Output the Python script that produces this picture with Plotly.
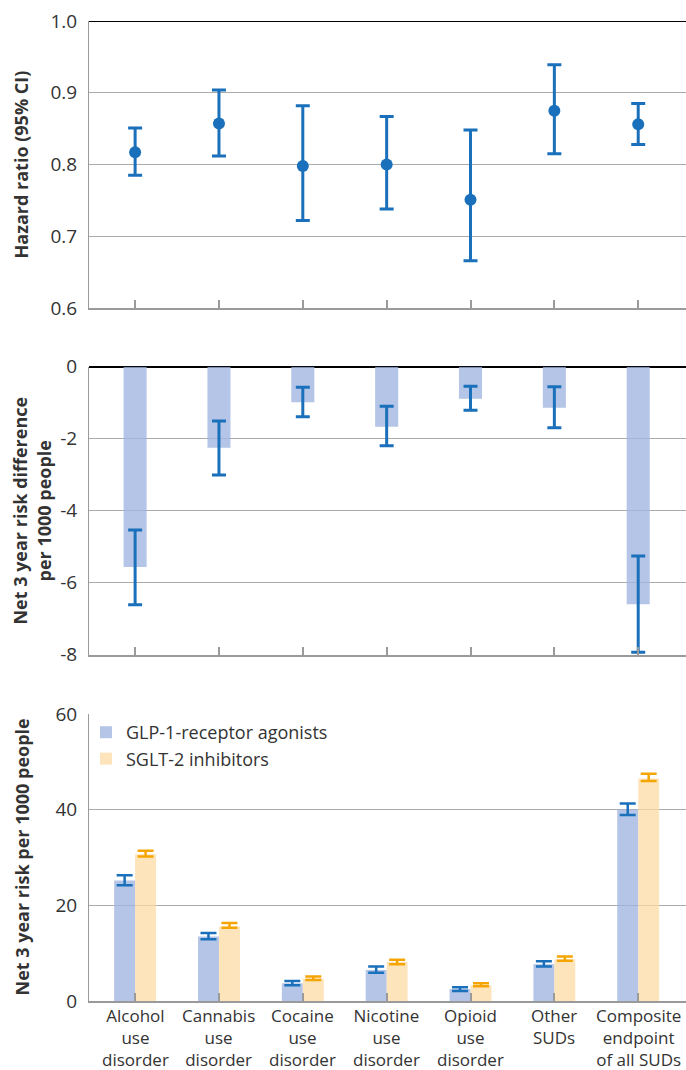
import plotly.graph_objects as go

# Outcome categories
categories = ["Alcohol<br>use<br>disorder", "Cannabis<br>use<br>disorder", "Cocaine<br>use<br>disorder",
              "Nicotine<br>use<br>disorder", "Opioid<br>use<br>disorder", "Other<br>SUDs",
              "Composite<br>endpoint<br>of all SUDs"]

# Hazard ratios with 95% CI
hr = [0.817, 0.857, 0.798, 0.800, 0.751, 0.875, 0.856]
hr_lo = [0.785, 0.812, 0.722, 0.738, 0.666, 0.815, 0.828]
hr_hi = [0.851, 0.904, 0.882, 0.867, 0.848, 0.939, 0.885]

# Net 3 year risk difference per 1000 people
rd = [-5.57, -2.25, -0.99, -1.67, -0.89, -1.14, -6.60]
rd_lo = [-6.62, -3.01, -1.39, -2.20, -1.21, -1.70, -7.94]
rd_hi = [-4.54, -1.51, -0.57, -1.10, -0.54, -0.56, -5.26]

# Net 3 year risk per 1000 people by drug class
glp = [25.2, 13.5, 3.7, 6.5, 2.5, 7.7, 40.1]
glp_lo = [24.2, 12.9, 3.3, 5.9, 2.1, 7.2, 38.9]
glp_hi = [26.3, 14.2, 4.2, 7.2, 2.9, 8.3, 41.3]
sglt = [30.7, 15.6, 4.7, 8.2, 3.3, 8.7, 46.5]
sglt_lo = [30.2, 15.3, 4.4, 7.7, 3.1, 8.4, 46.0]
sglt_hi = [31.4, 16.3, 5.1, 8.6, 3.7, 9.3, 47.5]

hr_ticks = [0.6, 0.7, 0.8, 0.9, 1.0]
rd_ticks = [0, -2, -4, -6, -8]
risk_ticks = [0, 20, 40, 60]

W, H = 686, 1070
BLUE = "#1a70ba"
ORANGE = "#f5a503"
BAR_BLUE = "rgba(160,181,224,0.78)"
BAR_PEACH = "rgba(253,218,160,0.72)"
GRID = "#ababab"
AXIS = "#9a9a9a"
TEXT = "#333333"
FONT = "Open Sans"

xpos = list(range(len(categories)))


def up(v, hi):
    return [h - x for x, h in zip(v, hi)]


def down(v, lo):
    return [x - l for x, l in zip(v, lo)]


fig = go.Figure()

# Panel 1: hazard ratios
fig.add_trace(go.Scatter(
    x=xpos, y=hr, mode="markers", xaxis="x", yaxis="y", showlegend=False,
    marker=dict(color=BLUE, size=12),
    error_y=dict(type="data", array=up(hr, hr_hi), arrayminus=down(hr, hr_lo),
                 color=BLUE, thickness=3, width=7),
))

# Panel 2: risk differences
fig.add_trace(go.Bar(
    x=xpos, y=rd, xaxis="x2", yaxis="y2", showlegend=False, width=0.275,
    marker=dict(color=BAR_BLUE, line=dict(width=0)),
    error_y=dict(type="data", array=up(rd, rd_hi), arrayminus=down(rd, rd_lo),
                 color=BLUE, thickness=3, width=7),
))

# Panel 3: absolute risks
fig.add_trace(go.Bar(
    x=xpos, y=glp, xaxis="x3", yaxis="y3", name="GLP-1-receptor agonists",
    width=0.25, offset=-0.25,
    marker=dict(color=BAR_BLUE, line=dict(width=0)),
    error_y=dict(type="data", array=up(glp, glp_hi), arrayminus=down(glp, glp_lo),
                 color=BLUE, thickness=2.5, width=8),
))
fig.add_trace(go.Bar(
    x=xpos, y=sglt, xaxis="x3", yaxis="y3", name="SGLT-2 inhibitors",
    width=0.25, offset=0,
    marker=dict(color=BAR_PEACH, line=dict(width=0)),
    error_y=dict(type="data", array=up(sglt, sglt_hi), arrayminus=down(sglt, sglt_lo),
                 color=ORANGE, thickness=2.5, width=8),
))


def ydom(top_px, bottom_px):
    return [1 - bottom_px / H, 1 - top_px / H]


xdom = [89 / W, 1.0]
xrange_ = [-0.55, 6.57]

xcommon = dict(domain=xdom, range=xrange_, showline=True, linecolor=AXIS, linewidth=1.5,
               ticks="inside", ticklen=8, tickcolor=AXIS, tickwidth=1.5,
               tickvals=xpos, showgrid=False, zeroline=False, automargin=False,
               showticklabels=False)
ycommon = dict(showline=True, linecolor=AXIS, linewidth=1, showgrid=True,
               gridcolor=GRID, gridwidth=1.3, ticks="", ticklabelstandoff=7,
               automargin=False, tickfont=dict(family=FONT, size=19, color=TEXT))

fig.update_layout(
    width=W, height=H, margin=dict(l=0, r=0, t=0, b=0, autoexpand=False),
    paper_bgcolor="white", plot_bgcolor="white",
    barmode="group",
    font=dict(family=FONT, color=TEXT),
    xaxis=dict(**xcommon, anchor="y"),
    xaxis2=dict(**xcommon, anchor="y2"),
    xaxis3=dict(**xcommon, anchor="y3", layer="above traces"),
    yaxis=dict(**ycommon, domain=ydom(21, 308), anchor="x", range=[0.6, 1.0],
               tickvals=hr_ticks, ticktext=[f"{t:.1f}" for t in hr_ticks], zeroline=False),
    yaxis2=dict(**ycommon, domain=ydom(366.7, 654.5), anchor="x2", range=[-8, 0],
                tickvals=rd_ticks, ticktext=[str(t) for t in rd_ticks],
                zeroline=True, zerolinecolor="black", zerolinewidth=2.2),
    yaxis3=dict(**ycommon, domain=ydom(714, 1001), anchor="x3", range=[0, 60],
                tickvals=risk_ticks, ticktext=[str(t) for t in risk_ticks], zeroline=False),
    legend=dict(x=86 / W, y=1 - 714 / H, xanchor="left", yanchor="top",
                bgcolor="rgba(0,0,0,0)", font=dict(family=FONT, size=18, color=TEXT),
                tracegroupgap=0, itemwidth=30),
    shapes=[dict(type="line", xref="x domain", yref="y", x0=0, x1=1, y0=1.0, y1=1.0,
                 line=dict(color="black", width=2.2))],
)

# Category labels under the bottom panel
for i, label in enumerate(categories):
    fig.add_annotation(text=label, xref="x3", yref="paper", x=xpos[i], y=1 - 1003 / H,
                       xanchor="center", yanchor="top", showarrow=False, borderpad=0,
                       font=dict(family=FONT, size=17, color=TEXT))

title_font = dict(family=FONT, size=18, color=TEXT)
for text, ymid, xc in [("<b>Hazard ratio (95% CI)</b>", (21 + 308) / 2, 21),
                       ("<b>Net 3 year risk difference<br>per 1000 people</b>", (366.7 + 654.5) / 2, 32),
                       ("<b>Net 3 year risk per 1000 people</b>", (714 + 1001) / 2, 21)]:
    fig.add_annotation(text=text, xref="paper", yref="paper", x=xc / W, y=1 - ymid / H,
                       xanchor="center", yanchor="middle", textangle=-90, showarrow=False,
                       font=title_font)

fig.write_html("out.html")
